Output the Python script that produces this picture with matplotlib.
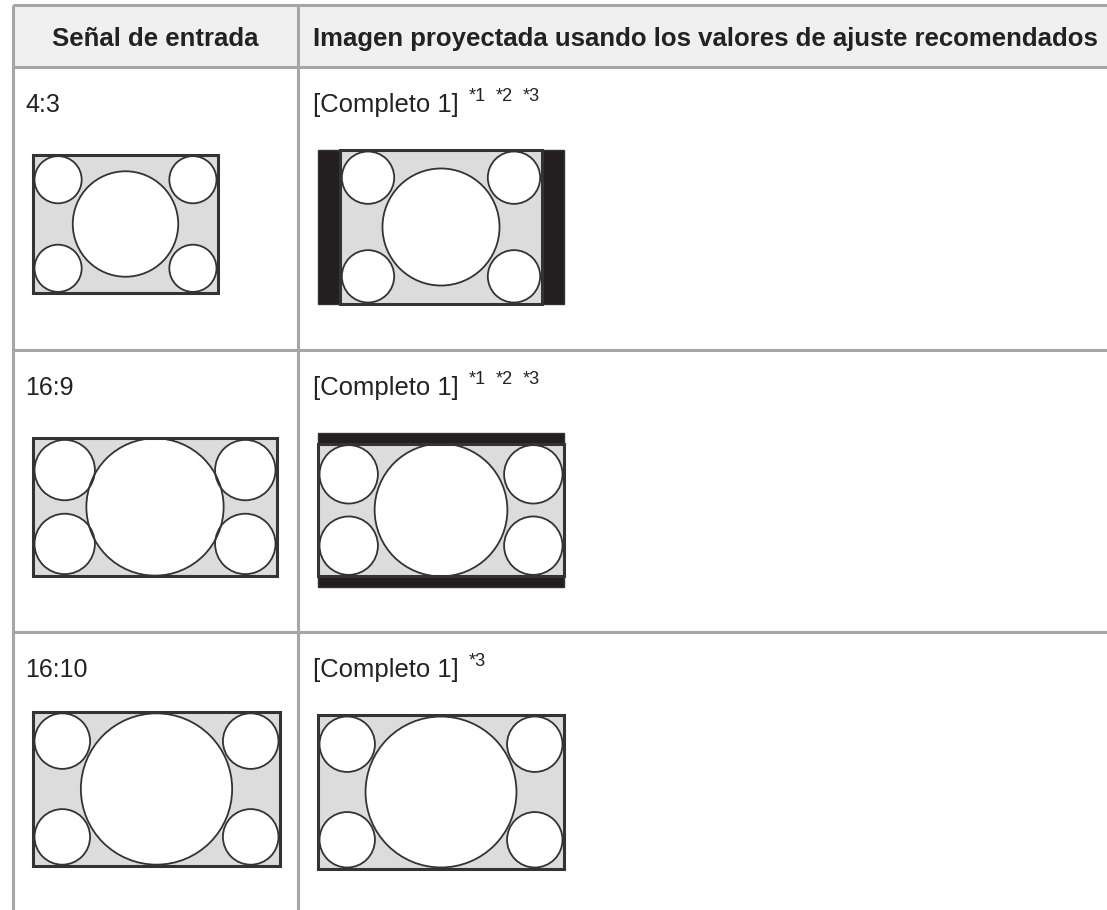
import matplotlib
matplotlib.use("Agg")
import matplotlib.pyplot as plt
from matplotlib.patches import Rectangle, Circle

plt.rcParams["font.family"] = ["Liberation Sans", "DejaVu Sans"]

# table content
headers = ["Señal de entrada",
           "Imagen proyectada usando los valores de ajuste recomendados"]
signals = ["4:3", "16:9", "16:10"]
signal_aspects = [4 / 3, 16 / 9, 16 / 10]
modes = ["[Completo 1]", "[Completo 1]", "[Completo 1]"]
notes = [["*1", "*2", "*3"], ["*1", "*2", "*3"], ["*3"]]
screen_aspect = 16 / 10

# circle sizes in each pictogram, as share of the picture height
small_circle = [0.17, 0.22, 0.18]
big_circle = [0.38, 0.50, 0.49]

W, H = 1107, 910
LINE = "#a6a6a6"
HEAD_BG = "#f0f0f0"
TEXT = "#222222"
GRAY = "#dcdcdc"
INK = "#333333"
BAR = "#231f20"

table_left = 13
col_split = 298
header_top, header_bottom = 5, 67
row_tops = [67, 350, 632]
left_widths = [185, 244, 247]
screen_w, screen_h = 246, 154

fig = plt.figure(figsize=(W / 100, H / 100), dpi=100)
ax = fig.add_axes([0, 0, 1, 1])
ax.set_xlim(0, W)
ax.set_ylim(H, 0)
ax.axis("off")
renderer = fig.canvas.get_renderer()


def fit_width(t, target):
    w = t.get_window_extent(renderer).width
    t.set_fontsize(t.get_fontsize() * target / w)


def pictogram(x, y, w, h, k):
    """Gray frame with four corner circles and one big centre circle."""
    b = 1.5
    r = small_circle[k] * h
    R = big_circle[k] * h
    ax.add_patch(Rectangle((x, y), w, h, facecolor=GRAY, edgecolor="none", zorder=2))
    centres = [(x + w / 2, y + h / 2, R)]
    for cx in (x + b + r, x + w - b - r):
        for cy in (y + b + r, y + h - b - r):
            centres.append((cx, cy, r))
    for cx, cy, rr in centres:
        ax.add_patch(Circle((cx, cy), rr, facecolor="white", edgecolor="none", zorder=3))
    for cx, cy, rr in centres:
        ax.add_patch(Circle((cx, cy), rr, facecolor="none", edgecolor=INK,
                            linewidth=1.3, zorder=4))
    ax.add_patch(Rectangle((x, y), w, h, facecolor="none", edgecolor=INK,
                           linewidth=2.2, zorder=5))


# header background and grid lines
ax.add_patch(Rectangle((table_left, header_top), W - table_left, header_bottom - header_top,
                       facecolor=HEAD_BG, edgecolor="none", zorder=0))
for y in [header_top] + row_tops:
    ax.plot([table_left, W], [y, y], color=LINE, linewidth=2.2, zorder=1,
            solid_capstyle="butt")
for x in (table_left, col_split):
    ax.plot([x, x], [header_top, H], color=LINE, linewidth=2.2, zorder=1,
            solid_capstyle="butt")

# header text
h1 = ax.text((table_left + col_split) / 2, 46, headers[0], ha="center", va="baseline",
             fontsize=18, fontweight="bold", color=TEXT)
h2 = ax.text(313, 46, headers[1], ha="left", va="baseline",
             fontsize=18, fontweight="bold", color=TEXT)
fit_width(h1, 206)
fit_width(h2, 785)

for i, top in enumerate(row_tops):
    base = top + 45
    ax.text(25, base, signals[i], ha="left", va="baseline", fontsize=18, color=TEXT)
    m = ax.text(313, base, modes[i], ha="left", va="baseline", fontsize=18, color=TEXT)
    fit_width(m, 145)
    xs = m.get_window_extent(renderer).x1 + 10
    for n in notes[i]:
        s = ax.text(xs, base - 11, n, ha="left", va="baseline", fontsize=13, color=TEXT)
        xs = s.get_window_extent(renderer).x1 + 10

    # projected picture on a 16:10 screen
    sx, sy = 318, top + 83
    a = signal_aspects[i]
    if a < screen_aspect - 1e-6:
        ch = screen_h
        cw = (screen_h - 3) * a
    elif a > screen_aspect + 1e-6:
        cw = screen_w
        ch = (screen_w - 10) / a
    else:
        cw, ch = screen_w, screen_h
    if abs(a - screen_aspect) > 1e-6:
        ax.add_patch(Rectangle((sx, sy), screen_w, screen_h, facecolor=BAR,
                               edgecolor=INK, linewidth=1.0, zorder=2))
    pictogram(sx + (screen_w - cw) / 2, sy + (screen_h - ch) / 2, cw, ch, i)

    # input signal picture
    lw = left_widths[i]
    lh = lw / a
    cy = sy + screen_h / 2 - 3
    pictogram(33, cy - lh / 2, lw, lh, i)

fig.savefig("out.png", dpi=100)
